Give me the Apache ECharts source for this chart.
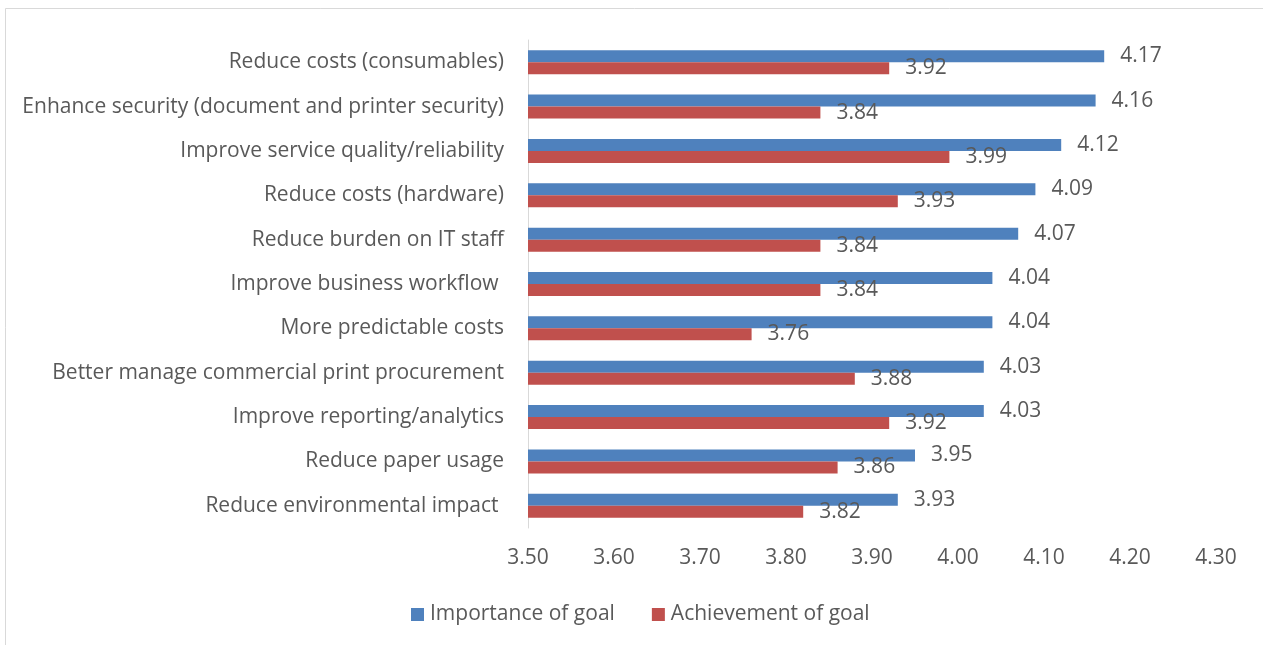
<!DOCTYPE html>
<html>
<head>
<meta charset="utf-8">
<script src="https://cdn.jsdelivr.net/npm/echarts@6/dist/echarts.min.js"></script>
<style>
  html, body { margin: 0; padding: 0; background: #fff; }
  #chart { width: 1263px; height: 645px; }
</style>
</head>
<body>
<div id="chart"></div>
<script>
// Goals, listed top to bottom
const categories = [
  'Reduce costs (consumables)',
  'Enhance security (document and printer security)',
  'Improve service quality/reliability',
  'Reduce costs (hardware)',
  'Reduce burden on IT staff',
  'Improve business workflow ',
  'More predictable costs',
  'Better manage commercial print procurement',
  'Improve reporting/analytics',
  'Reduce paper usage',
  'Reduce environmental impact '
];
const importance = [4.17, 4.16, 4.12, 4.09, 4.07, 4.04, 4.04, 4.03, 4.03, 3.95, 3.93];
const achievement = [3.92, 3.84, 3.99, 3.93, 3.84, 3.84, 3.76, 3.88, 3.92, 3.86, 3.82];
const seriesNames = ['Importance of goal', 'Achievement of goal'];
const axisMin = 3.5, axisMax = 4.3, axisStep = 0.1;

const textColor = '#595959';
const fontFamily = '"Open Sans", "Noto Sans", sans-serif';
const fontSize = 21;

const chart = echarts.init(document.getElementById('chart'), null, { renderer: 'canvas' });

const labelCfg = {
  show: true,
  position: 'right',
  distance: 16,
  color: textColor,
  fontSize: fontSize,
  fontFamily: fontFamily,
  formatter: p => p.value.toFixed(2)
};

chart.setOption({
  animation: false,
  backgroundColor: '#fff',
  graphic: [{
    type: 'rect',
    shape: { x: 5.5, y: 8.5, width: 1300, height: 700 },
    style: { fill: 'none', stroke: '#d9d9d9', lineWidth: 1 },
    silent: true
  }],
  grid: { left: 528, right: 47, top: 40, bottom: 117, containLabel: false },
  legend: {
    data: seriesNames,
    bottom: 15,
    left: 406,
    itemWidth: 13,
    itemHeight: 13,
    itemGap: 37,
    icon: 'rect',
    textStyle: { color: textColor, fontSize: fontSize, fontFamily: fontFamily, padding: [0, 0, 0, 1] }
  },
  xAxis: {
    type: 'value',
    min: axisMin,
    max: axisMax,
    interval: axisStep,
    axisLine: { show: false },
    axisTick: { show: false },
    splitLine: { show: false },
    axisLabel: {
      color: textColor,
      fontSize: fontSize,
      fontFamily: fontFamily,
      margin: 20,
      formatter: v => v.toFixed(2)
    }
  },
  yAxis: {
    type: 'category',
    data: categories,
    inverse: true,
    axisLine: { show: true, lineStyle: { color: '#d9d9d9', width: 1 } },
    axisTick: { show: false },
    axisLabel: {
      color: textColor,
      fontSize: fontSize,
      fontFamily: fontFamily,
      margin: 24
    }
  },
  series: [
    {
      name: seriesNames[0],
      type: 'bar',
      data: importance,
      barWidth: 12,
      barGap: '0%',
      itemStyle: { color: '#4F81BD' },
      label: labelCfg
    },
    {
      name: seriesNames[1],
      type: 'bar',
      data: achievement,
      barWidth: 12,
      barGap: '0%',
      itemStyle: { color: '#C0504D' },
      label: labelCfg
    }
  ]
});
</script>
</body>
</html>
